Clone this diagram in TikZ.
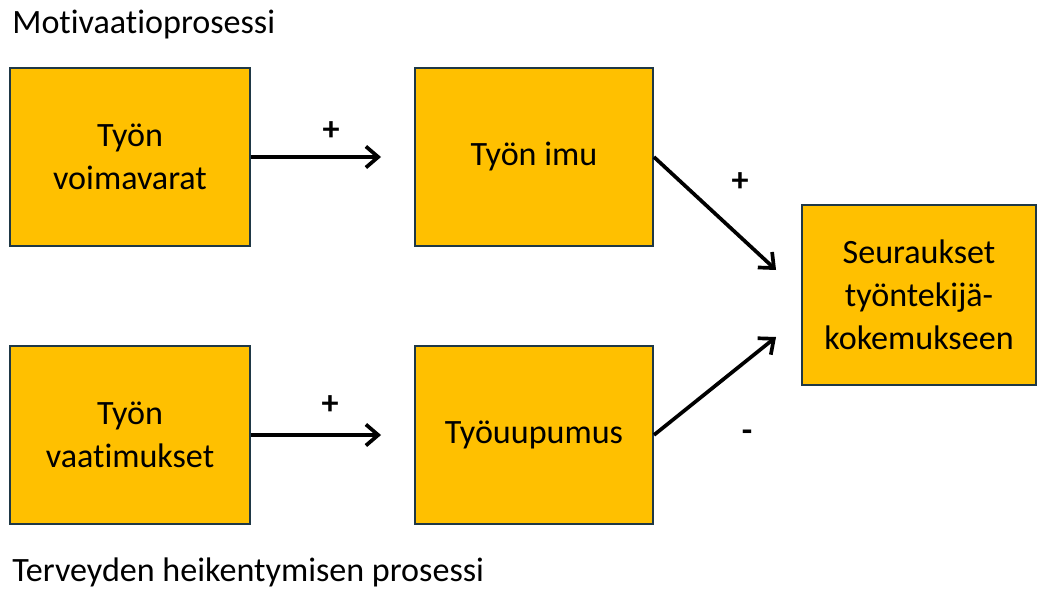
\documentclass[tikz,border=0pt]{standalone}
\usepackage{fontspec}
\setmainfont{Carlito}[Ligatures=NoCommon]
\usepackage{tikz}
\usetikzlibrary{arrows.meta, positioning, calc}
\definecolor{boxfill}{RGB}{255, 192, 0}
\definecolor{boxedge}{RGB}{31, 56, 70}

\tikzset{
    jdrbox/.style={draw=boxedge, line width=1.1pt, fill=boxfill, align=center,
        minimum width=4.8cm, minimum height=3.56cm, inner sep=0pt},
    effect/.style={line width=2.1pt, -{Straight Barb[length=7pt, width=12pt, line width=2.1pt]}},
    sign/.style={font=\fontsize{19.4}{24.4}\selectfont\bfseries}
}

\begin{document}
\begin{tikzpicture}[every node/.style={font=\fontsize{19.4}{24.4}\selectfont}]
    \useasboundingbox (0,0) rectangle (20.76,11.8);

    % Process titles
    \node[anchor=base west, inner sep=0pt] (motiv) at (0.24,11.12) {Motivaatioprosessi};
    \node[anchor=base west, inner sep=0pt] (terv) at (0.24,0.18) {Terveyden heikentymisen prosessi};

    % Boxes
    \node[jdrbox] (voimavarat) at (2.6,8.66) {Työn\\voimavarat};
    \node[jdrbox, minimum width=4.76cm] (imu) at (10.68,8.66) {Työn imu};
    \node[jdrbox] (vaatimukset) at (2.6,3.1) {Työn\\vaatimukset};
    \node[jdrbox, minimum width=4.76cm] (uupumus) at (10.68,3.1) {Työuupumus};
    \node[jdrbox, minimum width=4.68cm, minimum height=3.6cm] (seuraukset) at (18.38,5.9)
        {Seuraukset\\työntekijä-\\kokemukseen};

    % Arrow ends near the outcome box
    \coordinate (inplus) at ($(seuraukset.west)+(-0.5,0.5)$);
    \coordinate (inminus) at ($(seuraukset.west)+(-0.5,-0.84)$);

    % Arrows
    \draw[effect, shorten >=0.66cm] (voimavarat.east) -- (voimavarat.east -| imu.west);
    \draw[effect, shorten >=0.66cm] (vaatimukset.east) -- (vaatimukset.east -| uupumus.west);
    \draw[effect] (imu.east) -- (inplus);
    \draw[effect] (uupumus.east) -- (inminus);

    % Signs
    \node[sign] (s1) at (6.62,9.18) {+};
    \node[sign] (s2) at (6.6,3.7) {+};
    \node[sign] (s3) at (14.8,8.16) {+};
    \node[sign] (s4) at (14.94,3.08) {-};
\end{tikzpicture}
\end{document}
